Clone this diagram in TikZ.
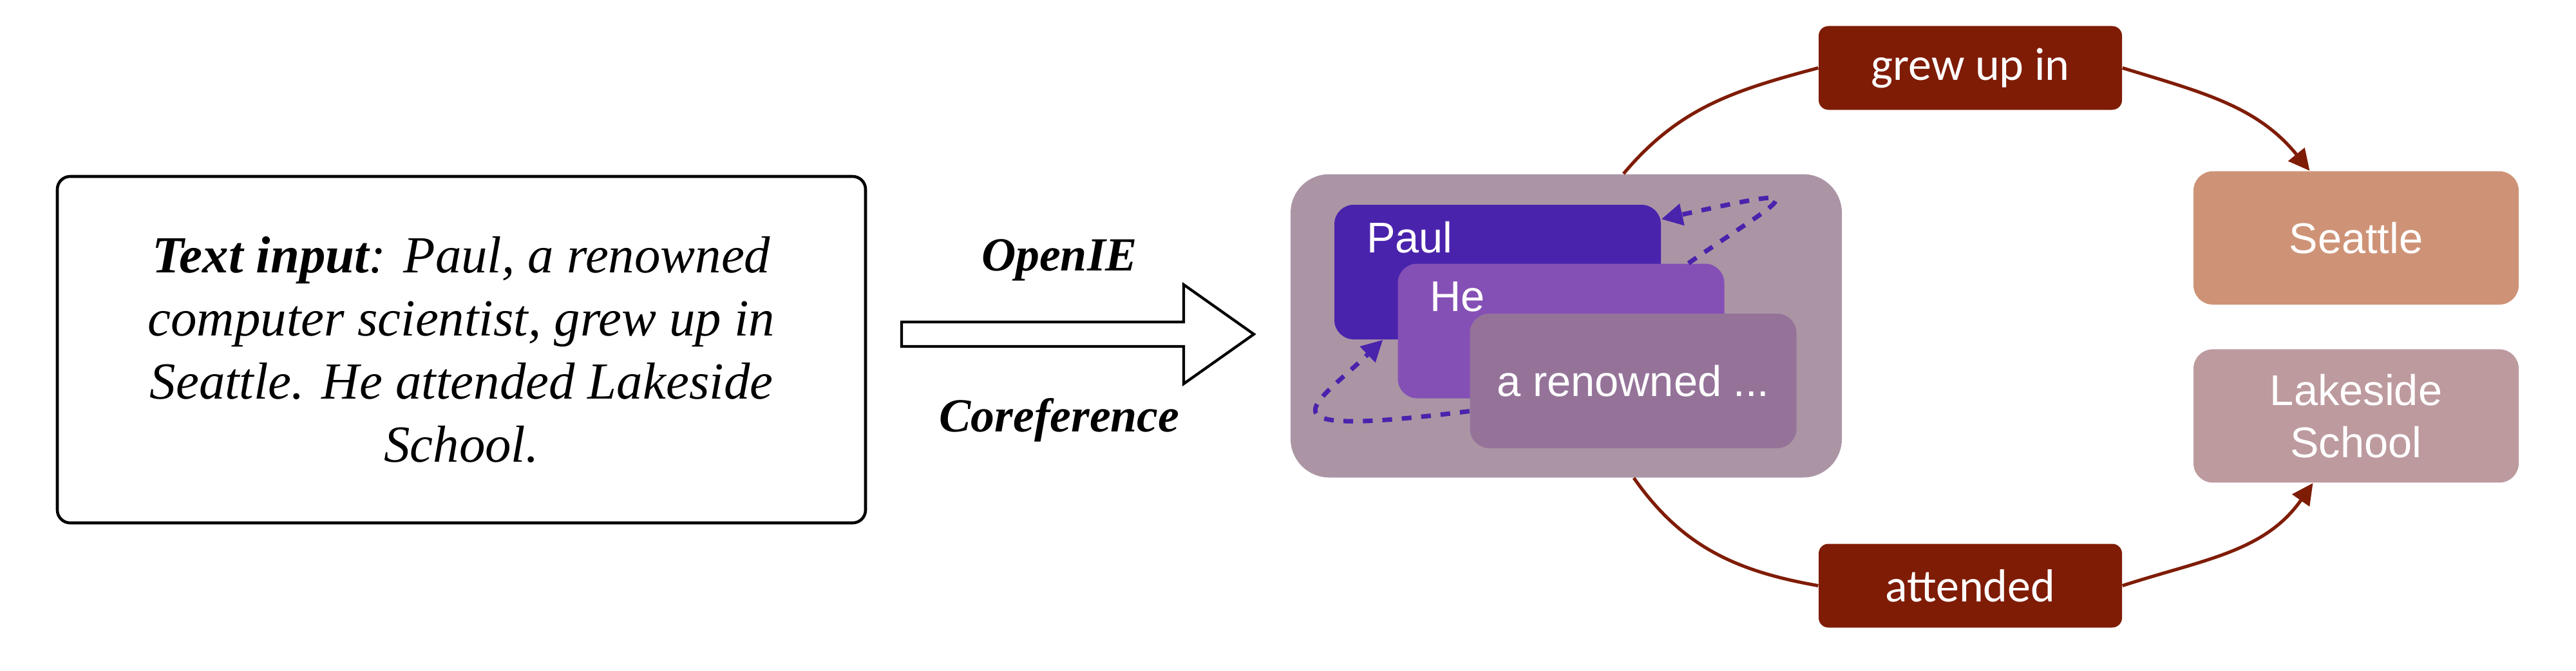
\documentclass[tikz,border=0pt]{standalone}
\usepackage{fontspec}
\setmainfont{Liberation Serif}
\newfontfamily\helvfont{Liberation Sans}
\newfontfamily\califont{Carlito}
\usepackage{tikz}
\usetikzlibrary{arrows.meta, positioning}

\definecolor{clustergrey}{RGB}{171,149,165}
\definecolor{paulblue}{RGB}{74,35,173}
\definecolor{hepurple}{RGB}{133,80,181}
\definecolor{renownmauve}{RGB}{149,115,153}
\definecolor{relred}{RGB}{127,28,6}
\definecolor{seattletan}{RGB}{206,147,119}
\definecolor{schoolrose}{RGB}{189,154,158}

\begin{document}
\begin{tikzpicture}
    [
        inputbox/.style = {
            rectangle, rounded corners=0.2cm, draw=black, line width=1.3pt,
            minimum width=12.55cm, minimum height=5.38cm, align=center,
            font=\fontsize{23}{27.8}\selectfont\itshape
            },
        steplabel/.style = {
            anchor=base, font=\fontsize{21}{25}\selectfont\bfseries\itshape
            },
        mention/.style = {
            rectangle, rounded corners=0.3cm, text=white,
            minimum width=5.07cm, minimum height=2.09cm,
            font=\helvfont\fontsize{19}{23}\selectfont
            },
        tagged/.style = {
            mention, align=left, text width=4.07cm, inner xsep=0.5cm,
            inner ysep=0pt, text height=0.74cm, text depth=1.35cm
            },
        relation/.style = {
            rectangle, rounded corners=0.15cm, fill=relred, text=white,
            minimum width=4.71cm, minimum height=1.3cm,
            font=\califont\fontsize{20.5}{24}\selectfont
            },
        entity/.style = {
            rectangle, rounded corners=0.3cm, text=white, align=center,
            minimum width=5.05cm, minimum height=2.07cm,
            font=\helvfont\fontsize{19}{23}\selectfont
            },
        coref/.style = {
            draw=paulblue, line width=2pt, dash pattern=on 4.3pt off 4.3pt,
            -{Triangle[length=0.33cm, width=0.33cm]}
            },
        link/.style = {
            draw=relred, line width=1.45pt,
            },
        linkarrow/.style = {
            link, -{Triangle[length=0.33cm, width=0.32cm]}
            },
    ]
    \useasboundingbox (0,0) rectangle (40,10.41);

    % input sentence
    \node[inputbox] (input) at (7.165,4.98)
        {\textbf{Text input}: Paul, a renowned\\ computer scientist, grew up in\\
         Seattle. He attended Lakeside\\ School.};

    % OpenIE + coreference step
    \draw[line width=1.2pt, fill=white]
        (14.00,5.03) -- (18.38,5.03) -- (18.38,4.45) -- (19.47,5.22)
        -- (18.38,5.99) -- (18.38,5.41) -- (14.00,5.41) -- cycle;
    \node[steplabel] (openie) at (16.45,6.21) {OpenIE};
    \node[steplabel] (coreference) at (16.45,3.71) {Coreference};

    % mention cluster
    \node[rectangle, rounded corners=0.6cm, fill=clustergrey,
          minimum width=8.56cm, minimum height=4.71cm] (cluster) at (24.32,5.35) {};
    \node[tagged, fill=paulblue] (paul) at (23.255,6.185) {Paul};
    \node[tagged, fill=hepurple] (he) at (24.24,5.27) {He};
    \node[mention, fill=renownmauve] (renowned) at (25.36,4.495) {a renowned ...};

    \draw[coref] ([yshift=-0.47cm]renowned.west)
        .. controls +(-3.43,-0.43) and +(-1.07,-1.03) .. ([xshift=0.76cm]paul.south west);
    \draw[coref] ([xshift=4.52cm]he.north west)
        .. controls +(1.57,1.09) and +(2.5,0.55) .. ([yshift=-0.23cm]paul.north east);

    % relations and entities
    \node[relation] (grew) at (30.595,9.355) {grew up in};
    \node[relation] (attended) at (30.595,1.315) {attended};
    \node[entity, fill=seattletan] (seattle) at (36.585,6.715) {Seattle};
    \node[entity, fill=schoolrose] (lakeside) [below=0.68cm of seattle] {Lakeside\\School};

    \draw[link] ([xshift=0.89cm]cluster.north) to[out=50, in=195] (grew.west);
    \draw[linkarrow] (grew.east) to[out=-17, in=129] ([xshift=-0.72cm]seattle.north);
    \draw[link] ([xshift=1.05cm]cluster.south) to[out=-55, in=170] (attended.west);
    \draw[linkarrow] (attended.east) to[out=18, in=235] ([xshift=-0.67cm]lakeside.south);
\end{tikzpicture}
\end{document}
